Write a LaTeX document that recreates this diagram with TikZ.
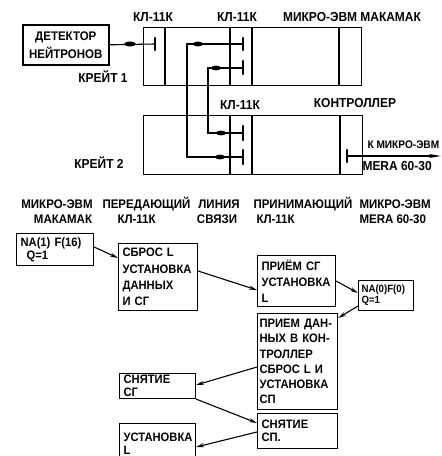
\documentclass[tikz,border=0pt]{standalone}
\usepackage{fontspec}
\setmainfont[FakeStretch=0.92]{Liberation Sans}
\usetikzlibrary{arrows.meta,calc}
\begin{document}
\begin{tikzpicture}[x=1pt,y=-1pt, line width=1.1pt,
  >={Stealth[length=8pt,width=4pt]},
  lbl/.style={font=\bfseries\fontsize{12.5}{14}\selectfont, inner sep=0},
  biglbl/.style={font=\bfseries\fontsize{13}{15}\selectfont, inner sep=0},
  fbox/.style n args={3}{draw, anchor=north west, align=left, inner xsep=4pt, inner ysep=0pt,
    minimum width=#1, minimum height=#2, text width=#3,
    font=\bfseries\fontsize{12.2}{16.2}\selectfont},
  tight/.style={font=\bfseries\fontsize{12.2}{12.8}\selectfont},
  crate/.style n args={2}{draw, anchor=north west, minimum width=#1, minimum height=#2, inner sep=0pt},
  bar/.style={line width=2.4pt, line cap=round}
]
\useasboundingbox (0,0) rectangle (442,456);

% ---------- upper part: crates ----------
\node[draw, line width=1.6pt, anchor=north west, minimum width=86pt, minimum height=40pt,
  inner sep=0pt, align=center, font=\bfseries\fontsize{12.5}{18}\selectfont] (det) at (22,24) {ДЕТЕКТОР\\НЕЙТРОНОВ};

\node[crate={218pt}{58pt}] (crate1) at (143,27) {};
\draw (165,27) -- (165,85);
\draw (230,27) -- (230,85);
\draw (252,27) -- (252,85);
\draw (339,27) -- (339,85);

\node[crate={219pt}{59pt}] (crate2) at (143,115) {};
\draw (230,115) -- (230,174);
\draw (252,115) -- (252,174);
\draw (340,115) -- (340,174);

% labels
\node[biglbl] (l1) at (153,17) {КЛ-11К};
\node[biglbl] (l2) at (237,17) {КЛ-11К};
\node[biglbl] (l3) at (352,17) {МИКРО-ЭВМ МАКАМАК};
\node[biglbl] (kr1) at (103,77) {КРЕЙТ 1};
\node[biglbl] (l4) at (240,105) {КЛ-11К};
\node[biglbl] (l5) at (355,103) {КОНТРОЛЛЕР};
\node[biglbl] (kr2) at (99,163) {КРЕЙТ 2};

% terminals
\coordinate (t0) at (155,44);
\coordinate (k1a) at (243,44);
\coordinate (k1b) at (243,68);
\coordinate (k2a) at (243,133);
\coordinate (k2b) at (243,157);
\coordinate (kc) at (347,156);
\coordinate (kout) at (441,156);

\draw (det.east) -- (t0);
\fill (130,44) ellipse (6pt and 2.4pt);
\draw[bar] (155,38) -- (155,50);

\draw (k1a) -| (187,157) -- (k2b);
\draw (k1b) -| (208,133) -- (k2a);
\draw[bar] (243,38) -- (243,50);
\draw[bar] (243,61) -- (243,74);
\draw[bar] (243,126) -- (243,140);
\draw[bar] (243,150) -- (243,164);
\fill (198,44) ellipse (5pt and 2.4pt);
\fill (216,68) ellipse (5pt and 2.4pt);
\fill (221,133) ellipse (5pt and 2.4pt);
\fill (220,157) ellipse (5pt and 2.4pt);

\draw[bar] (347,150) -- (347,162);
\draw[-{Stealth[length=12pt,width=4pt]}] (kc) -- (kout);
\node[font=\bfseries\fontsize{11}{13}\selectfont, inner sep=0, anchor=west] (km) at (367,145) {К МИКРО-ЭВМ};
\node[biglbl, anchor=west] (mera) at (362,166) {MERA 60-30};

% ---------- column headers ----------
\node[lbl] (h1a) at (57,204) {МИКРО-ЭВМ};
\node[lbl] (h1b) at (63,219) {МАКАМАК};
\node[lbl, anchor=west] (h2a) at (102,204) {ПЕРЕДАЮЩИЙ};
\node[lbl, anchor=west] (h2b) at (117,219) {КЛ-11К};
\node[lbl] (h3a) at (219,204) {ЛИНИЯ};
\node[lbl] (h3b) at (217,219) {СВЯЗИ};
\node[lbl, anchor=west] (h4a) at (253,204) {ПРИНИМАЮЩИЙ};
\node[lbl, anchor=west] (h4b) at (256,219) {КЛ-11К};
\node[lbl, anchor=west] (h5a) at (359,204) {МИКРО-ЭВМ};
\node[lbl, anchor=west] (h5b) at (359,219) {MERA 60-30};

% ---------- flowchart ----------
\node[fbox={77pt}{32pt}{69pt}, tight] (b1) at (16,233) {NA(1) F(16)\\\hspace*{6pt}Q=1};
\node[fbox={79pt}{67pt}{71pt}] (b2) at (118,243) {СБРОС L\\УСТАНОВКА\\ДАННЫХ\\И СГ};
\node[fbox={78pt}{51pt}{70pt}] (b3) at (257,255) {ПРИЁМ СГ\\УСТАНОВКА\\L};
\node[fbox={55pt}{30pt}{49pt}, inner xsep=3pt, font=\bfseries\fontsize{10.5}{11}\selectfont] (b4) at (358,280) {NA(0)F(0)\\Q=1};
\node[fbox={80pt}{96pt}{76pt}, inner xsep=2pt, font=\bfseries\fontsize{12.2}{15.2}\selectfont] (b5) at (257,313) {ПРИЕМ ДАН-\\НЫХ В КОН-\\ТРОЛЛЕР\\СБРОС L И\\УСТАНОВКА\\СП};
\node[fbox={76pt}{25pt}{68pt}, tight] (b6) at (119,373) {СНЯТИЕ\\СГ};
\node[fbox={80pt}{35pt}{72pt}, tight] (b7) at (257,413) {СНЯТИЕ\\СП.};
\node[fbox={76pt}{40pt}{68pt}, tight] (b8) at (119,423) {УСТАНОВКА\\L};

\draw[->] ([yshift=-14pt]b1.north east) -- ([yshift=-15pt]b2.north west);
\draw[->] ([yshift=-28pt]b2.north east) -- ([yshift=-35pt]b3.north west);
\draw[->] ([yshift=-26pt]b3.north east) -- ([yshift=-13pt]b4.north west);
\draw[->] ([yshift=-26pt]b4.north west) -- ([yshift=-5pt]b5.north east);
\draw[->] ([yshift=-54pt]b5.north west) -- ([yshift=-12pt]b6.north east);
\draw[->] (b6.south east) -- ([yshift=-10pt]b7.north west);
\draw[->] ([yshift=-19pt]b7.north west) -- ([yshift=-24pt]b8.north east);
\end{tikzpicture}
\end{document}
